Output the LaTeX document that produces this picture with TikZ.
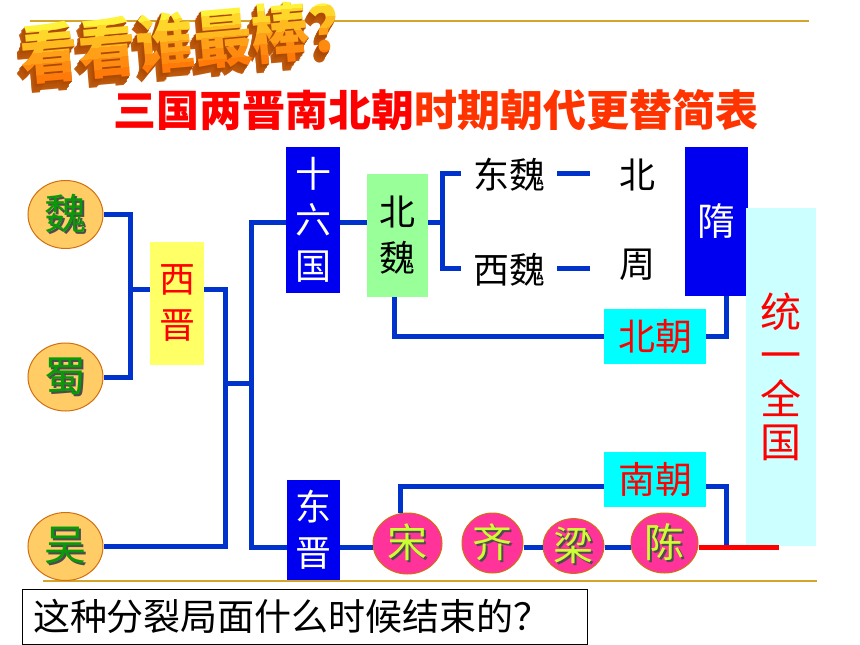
\documentclass[tikz,border=0pt]{standalone}
\usepackage{fontspec}
\newfontfamily\cjk{Noto Sans CJK SC}
\usetikzlibrary{shapes.geometric}
\definecolor{lineblue}{HTML}{0033CC}
\definecolor{boxblue}{HTML}{0000F0}
\definecolor{xjyellow}{HTML}{FFFF66}
\definecolor{bwgreen}{HTML}{99FF99}
\definecolor{cyanbox}{HTML}{00FFFF}
\definecolor{paleblue}{HTML}{CCFFFF}
\definecolor{circfill}{HTML}{FFCC66}
\definecolor{circline}{HTML}{D07010}
\definecolor{pinkfill}{HTML}{FF3399}
\definecolor{limetext}{HTML}{CCFF33}
\definecolor{greentext}{HTML}{089A08}
\definecolor{goldline}{HTML}{D4A52A}
\definecolor{titleorange}{HTML}{FF3300}
\definecolor{sideA}{HTML}{A84500}
\definecolor{sideB}{HTML}{D06A18}
\newcommand\shtx[2]{\makebox[0pt][l]{\kern2pt\raisebox{-2pt}{\textcolor{black!70}{#2}}}\textcolor{#1}{#2}}
\tikzset{
  bl/.style={draw=lineblue, line width=5pt},
  rl/.style={draw=red, line width=5pt},
  gold/.style={draw=goldline, line width=2pt},
  vbox/.style={rectangle, inner sep=0pt, align=center, font=\cjk\fontsize{36}{46}\selectfont},
  lab/.style={inner xsep=12pt, inner ysep=0pt, font=\cjk\fontsize{36}{36}\selectfont},
  circA/.style={ellipse, draw=circline, line width=1pt, fill=circfill, minimum width=75pt, minimum height=68pt, inner sep=0pt, font=\cjk\fontsize{42}{42}\selectfont},
  circB/.style={ellipse, draw=circline, line width=1pt, fill=pinkfill, inner sep=0pt, font=\cjk\fontsize{40}{40}\selectfont},
  wordart/.style={inner sep=0pt, transform shape, font=\cjk\bfseries\fontsize{58}{58}\selectfont}
}
\begin{document}
\begin{tikzpicture}[x=1pt,y=1pt]
\useasboundingbox (0,0) rectangle (860,-645);
\fill[white] (0,0) rectangle (860,-645);

% gold rules
\coordinate (g1) at (30,-21);
\coordinate (g2) at (809,-21);
\coordinate (g3) at (43,-581);
\coordinate (g4) at (817,-581);
\draw[gold] (g1) -- (g2);
\draw[gold] (g3) -- (g4);

% word-art title
\begin{scope}[shift={(194,-40)}, rotate=5, yscale=1.1]
  \foreach \k in {8,...,1} {
    \node[wordart, text=sideA!\the\numexpr 100-8*\k\relax!sideB] (wa\k) at ({-0.8*\k},{-1.0*\k}) {看看谁最棒？};
  }
  \foreach \i/\c in {0/FFF23A,1/FFD62A,2/FFBA20,3/FFA018,4/FF8A10,5/FF7A08} {
    \begin{scope}
      \clip (-220,{31-10*\i}) rectangle (220,{21-10*\i-0.5});
      \definecolor{bandc}{HTML}{\c}
      \node[wordart, text=bandc] (face\i) at (0,0) {看看谁最棒？};
    \end{scope}
  }
\end{scope}

% main title
\node[inner sep=0pt, font=\cjk\bfseries\fontsize{43}{43}\selectfont] (maintitle) at (436,-110)
  {\textcolor{red}{三国两晋南北朝}\textcolor{titleorange}{时期朝代更替简表}};

% three kingdoms
\node[circA] (wei) at (65.5,-214.5) {\shtx{greentext}{魏}};
\node[circA] (shu) at (65.5,-377) {\shtx{greentext}{蜀}};
\node[circA] (wu)  at (65.5,-546.5) {\shtx{greentext}{吴}};

% boxes
\node[vbox, fill=xjyellow, minimum width=54pt, minimum height=123pt, text=red] (xj) at (177,-303.5) {西\\晋};
\node[vbox, fill=boxblue, minimum width=54pt, minimum height=146pt, text=white] (sl) at (313,-220) {十\\六\\国};
\node[vbox, fill=bwgreen, minimum width=61pt, minimum height=123pt, text=black] (bw) at (397.5,-235.5) {北\\魏};
\node[vbox, fill=boxblue, minimum width=63pt, minimum height=149pt, text=white, font=\cjk\fontsize{38}{38}\selectfont] (sui) at (716.5,-221.5) {隋};
\node[vbox, fill=paleblue, minimum width=70pt, minimum height=338pt, text=red, font=\cjk\fontsize{41}{43.5}\selectfont] (ty) at (781,-377) {统\\一\\全\\国};
\node[vbox, fill=cyanbox, minimum width=102pt, minimum height=55pt, text=red, font=\cjk\fontsize{37}{37}\selectfont] (bc) at (655,-336.5) {北朝};
\node[vbox, fill=cyanbox, minimum width=102pt, minimum height=55pt, text=red, font=\cjk\fontsize{37}{37}\selectfont] (nc) at (655,-479.5) {南朝};
\node[vbox, fill=boxblue, minimum width=53pt, minimum height=100pt, text=white] (dj) at (313.5,-530) {东\\晋};

% plain labels
\node[lab] (dw) at (509,-175) {东魏};
\node[lab] (xw) at (509,-270) {西魏};
\node[lab] (bei) at (637.5,-175) {北};
\node[lab] (zhou) at (637,-265) {周};

% southern dynasties
\node[circB, minimum width=69pt, minimum height=61pt] (song) at (407.5,-543.5) {\shtx{limetext}{宋}};
\node[circB, minimum width=61pt, minimum height=60pt] (qi) at (492.5,-543) {\shtx{limetext}{齐}};
\node[circB, minimum width=61pt, minimum height=54pt] (liang) at (573.5,-546) {\shtx{limetext}{梁}};
\node[circB, minimum width=67pt, minimum height=60pt] (chen) at (664.5,-543) {\shtx{limetext}{陈}};

% junction coordinates
\coordinate (j1) at (130,-289);
\coordinate (j2) at (225,-383);
\coordinate (j3) at (251,-383);
\coordinate (k1) at (251,-222);
\coordinate (k2) at (251,-547);
\coordinate (m1) at (442,-222);
\coordinate (m2) at (442,-173);
\coordinate (m3) at (442,-268);
\coordinate (d1) at (590,-173);
\coordinate (d2) at (590,-268);
\coordinate (n1) at (394,-337);
\coordinate (p1) at (726,-296);
\coordinate (q1) at (400,-486);
\coordinate (q2) at (726,-547);
\coordinate (r1) at (779,-547);

% connectors
\draw[bl] (wei.east) -| (j1) |- (shu.east);
\draw[bl] (j1) -- (j1 -| xj.west);
\draw[bl] (xj.east |- j1) -| (j2) |- (wu.east);
\draw[bl] (j2) -- (j3);
\draw[bl] (sl.west |- k1) -| (k2) -- (k2 -| dj.west);
\draw[bl] (sl.east |- k1) -- (bw.west |- k1);
\draw[bl] (bw.east |- m1) -- (m1);
\draw[bl] (dw.west |- m2) -- (m2) -- (m3) -- (xw.west |- m3);
\draw[bl] (dw.east |- m2) -- (d1);
\draw[bl] (xw.east |- m3) -- (d2);
\draw[bl] (bw.south -| n1) |- (bc.west);
\draw[bl] (bc.east) -| (p1);
\draw[bl] (song.north -| q1) -- (q1) -- (q1 -| nc.west);
\draw[bl] (nc.east |- q1) -| (q2);
\draw[bl] (dj.east |- k2) -- (song.west |- k2);
\draw[bl] (qi.east |- k2) -- (liang.west |- k2);
\draw[bl] (liang.east |- k2) -- (chen.west |- k2);
\draw[rl] (chen.east |- r1) -- (r1);

% question
\node[draw=black, line width=1pt, fill=white, minimum width=565pt, minimum height=55pt, inner sep=0pt] (qbox) at (304.5,-616.5) {};
\node[inner sep=0pt, font=\cjk\fontsize{37}{37}\selectfont] (qtext) at (292,-616) {这种分裂局面什么时候结束的？};
\end{tikzpicture}
\end{document}
